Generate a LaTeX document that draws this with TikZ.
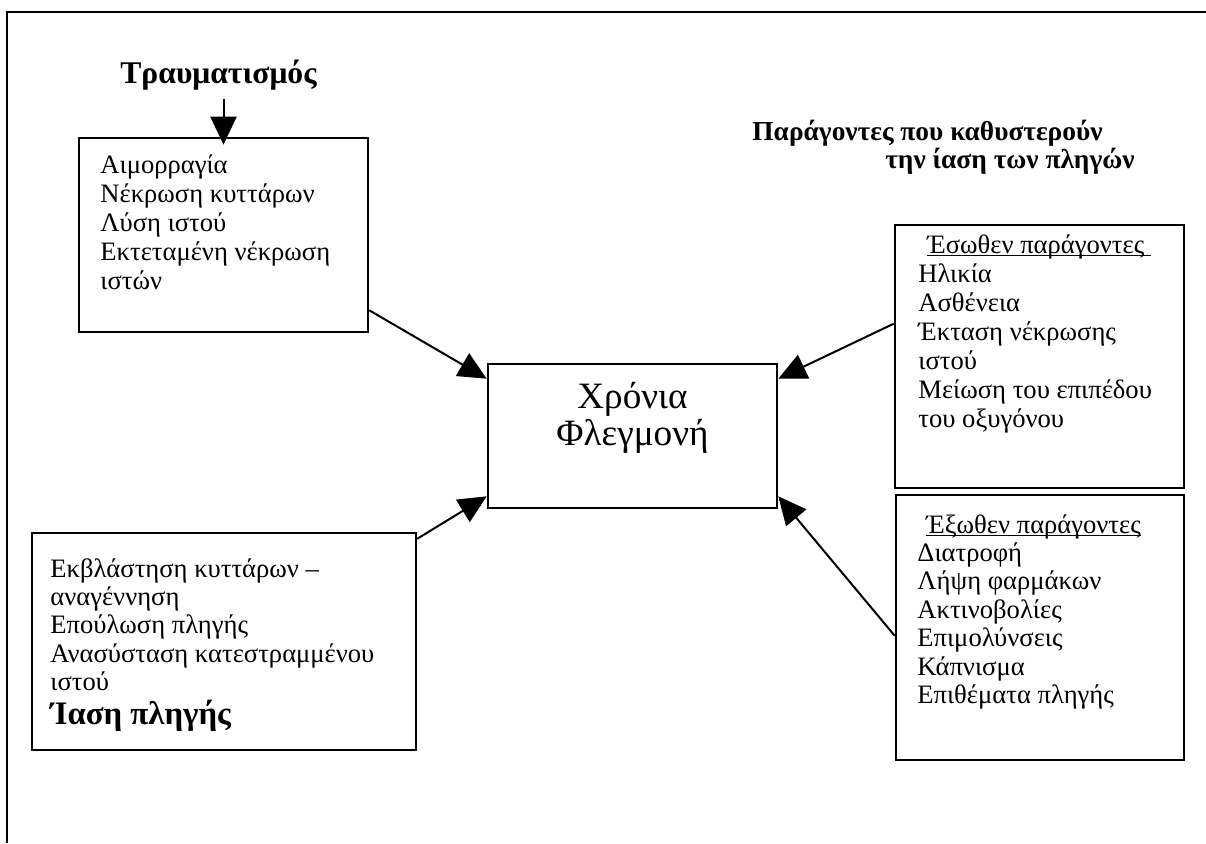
\documentclass[tikz,border=0pt]{standalone}
\usepackage{fontspec}
\setmainfont{Liberation Serif}
\usetikzlibrary{arrows.meta}
\newcommand\myul[1]{\setbox0\hbox{#1}\rlap{\rule[-1.6pt]{\wd0}{0.6pt}}\box0}
\newcommand\txtlines[1]{\begin{tabular}[t]{@{}l@{}}#1\end{tabular}}
\begin{document}
\begin{tikzpicture}[x=0.5pt,y=-0.5pt,
  pbox/.style={draw, line width=1.3pt, inner sep=0pt, rectangle},
  arr/.style={line width=1pt, -{Triangle[length=14pt,width=13pt]}},
  body/.style={inner sep=0pt, anchor=base west, font=\fontsize{13.3pt}{14.5pt}\selectfont},
  boldtitle/.style={inner sep=0pt, font=\bfseries\fontsize{13.7pt}{14.5pt}\selectfont},
  frame/.style={line width=1.3pt}
]
\useasboundingbox (0,0) rectangle (1206,843);
% outer frame (page border)
\coordinate (fbl) at (7,843);
\coordinate (ftl) at (7,12);
\coordinate (ftr) at (1206,12);
\draw[frame] (fbl) -- (ftl) -- (ftr);

% boxes
\node[pbox, minimum width=144.5pt, minimum height=97pt] (b1) at (223.5,235) {};
\node[pbox, minimum width=144.5pt, minimum height=72pt] (c) at (632.5,436) {};
\node[pbox, minimum width=192pt, minimum height=108.5pt] (b3) at (224,641.5) {};
\node[pbox, minimum width=144.5pt, minimum height=131.5pt] (b4) at (1039.5,356.5) {};
\node[pbox, minimum width=144pt, minimum height=132.5pt] (b5) at (1040,627.5) {};

% titles
\node[inner sep=0pt, anchor=base, font=\bfseries\fontsize{15.8pt}{18pt}\selectfont] (trauma) at (218.5,83) {Τραυματισμός};
\node[boldtitle, anchor=base west] (fac1) at (752,140) {Παράγοντες που καθυστερούν};
\node[boldtitle, anchor=base east] (fac2) at (1135,168) {την ίαση των πληγών};

% texts
\node[body] (t1) at (100,173) {\txtlines{Αιμορραγία\\Νέκρωση κυττάρων\\Λύση ιστού\\Εκτεταμένη νέκρωση\\ιστών}};
\node[inner sep=0pt, anchor=base, font=\fontsize{18.6pt}{18.5pt}\selectfont] (ct) at (632.5,408) {\begin{tabular}[t]{@{}c@{}}Χρόνια\\Φλεγμονή\end{tabular}};
\node[body, font=\fontsize{13.3pt}{14.2pt}\selectfont] (t3) at (50,577) {\txtlines{Εκβλάστηση κυττάρων –\\αναγέννηση\\Επούλωση πληγής\\Ανασύσταση κατεστραμμένου\\ιστού\\[0.6pt]{\bfseries\fontsize{16.4pt}{17pt}\selectfont Ίαση πληγής}}};
\node[body] (t4) at (918,253) {\txtlines{\hspace{4.5pt}\myul{Έσωθεν παράγοντες\ }\\Ηλικία\\Ασθένεια\\Έκταση νέκρωσης\\ιστού\\Μείωση του επιπέδου\\του οξυγόνου}};
\node[body, font=\fontsize{13.3pt}{14.2pt}\selectfont] (t5) at (917,533) {\txtlines{\hspace{4.5pt}\myul{Έξωθεν παράγοντες}\\Διατροφή\\Λήψη φαρμάκων\\Ακτινοβολίες\\Επιμολύνσεις\\Κάπνισμα\\Επιθέματα πληγής}};

% connectors
\coordinate (tstart) at (223.5,99);
\draw[arr] (tstart) -- ([yshift=-4pt]b1.north);
\draw[arr] ([yshift=11.5pt]b1.south east) -- ([yshift=-8pt]c.north west);
\draw[arr] ([yshift=-3.5pt]b3.north east) -- ([yshift=6.5pt]c.south west);
\draw[arr] ([yshift=-50pt]b4.north west) -- ([yshift=-8pt]c.north east);
\draw[arr] ([yshift=-71pt]b5.north west) -- ([yshift=6.5pt]c.south east);
\end{tikzpicture}
\end{document}
